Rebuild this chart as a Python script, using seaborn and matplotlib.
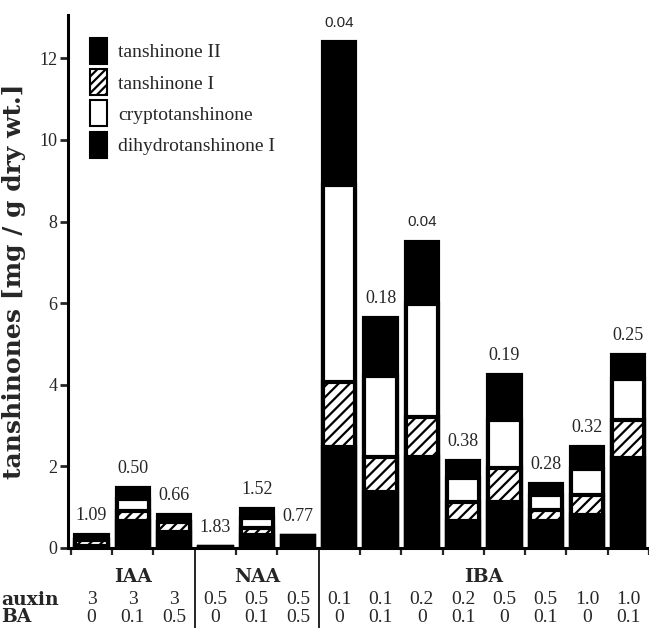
import numpy as np
import pandas as pd
import matplotlib
matplotlib.use("Agg")
import matplotlib.pyplot as plt
import matplotlib.patches as mpatches
import seaborn as sns

# ---------------- data ----------------
groups = ["IAA", "IAA", "IAA", "NAA", "NAA", "NAA",
          "IBA", "IBA", "IBA", "IBA", "IBA", "IBA", "IBA", "IBA"]
auxin = ["3", "3", "3", "0.5", "0.5", "0.5",
         "0.1", "0.1", "0.2", "0.2", "0.5", "0.5", "1.0", "1.0"]
ba = ["0", "0.1", "0.5", "0", "0.1", "0.5",
      "0", "0.1", "0", "0.1", "0", "0.1", "0", "0.1"]
# stacked bottom -> top (mg / g dry wt.)
tanshinone_II = [0.04, 0.66, 0.39, 0.03, 0.31, 0.29,
                 2.48, 1.37, 2.23, 0.65, 1.13, 0.65, 0.82, 2.21]
tanshinone_I = [0.16, 0.24, 0.24, 0.0, 0.17, 0.0,
                1.58, 0.85, 0.99, 0.47, 0.83, 0.29, 0.48, 0.93]
cryptotanshinone = [0.0, 0.29, 0.0, 0.0, 0.26, 0.0,
                    4.84, 2.00, 2.76, 0.60, 1.17, 0.35, 0.64, 1.00]
dihydrotanshinone_I = [0.11, 0.28, 0.19, 0.0, 0.21, 0.0,
                       3.49, 1.41, 1.52, 0.41, 1.10, 0.27, 0.54, 0.58]
ratio_labels = ["1.09", "0.50", "0.66", "1.83", "1.52", "0.77", "0.04",
                "0.18", "0.04", "0.38", "0.19", "0.28", "0.32", "0.25"]
ytick_values = [0, 2, 4, 6, 8, 10, 12]

# ---------------- style ----------------
sns.set_theme(style="white")
SERIF = ["Liberation Serif", "DejaVu Serif"]
BOLDSERIF = ["DejaVu Serif"]
SANS = ["Liberation Sans", "DejaVu Sans"]
plt.rcParams["font.family"] = SERIF
plt.rcParams["hatch.linewidth"] = 1.6
plt.rcParams["hatch.color"] = "black"

conds = [f"{g} {a}/{b}" for g, a, b in zip(groups, auxin, ba)]
df = pd.DataFrame({
    "cond": conds,
    "c1": np.array(tanshinone_II),
})
df["c2"] = df["c1"] + np.array(tanshinone_I)
df["c3"] = df["c2"] + np.array(cryptotanshinone)
df["c4"] = df["c3"] + np.array(dihydrotanshinone_I)

W_PX, H_PX = 649, 628
fig = plt.figure(figsize=(W_PX / 100, H_PX / 100), dpi=100)
ax = fig.add_axes([68 / W_PX, 80 / H_PX, 581 / W_PX, 533 / H_PX])

LW = 3.0
W = 0.78
common = dict(data=df, x="cond", order=conds, errorbar=None, ax=ax,
              width=W, saturation=1, edgecolor="black", linewidth=LW)
sns.barplot(y="c4", color="black", **common)
sns.barplot(y="c3", color="white", **common)
sns.barplot(y="c2", color="white", hatch="///", **common)
sns.barplot(y="c1", color="black", **common)

ax.set_xlim(-0.57, 13.50)
ax.set_ylim(0, 13.06)

# ratio annotations above the bars
for i, (lab, top) in enumerate(zip(ratio_labels, df["c4"])):
    fam = SANS if lab == "0.04" else SERIF
    size = 11 if lab == "0.04" else 13
    ax.annotate(lab, (i, top), xytext=(0, 14), textcoords="offset points",
                ha="center", va="center", fontsize=size, family=fam)

# axes styling
sns.despine(ax=ax, top=True, right=True)
for s in ("left", "bottom"):
    ax.spines[s].set_linewidth(2.2)
    ax.spines[s].set_color("black")

ax.set_yticks(ytick_values)
ax.set_yticklabels([str(v) for v in ytick_values], fontsize=13, family=SERIF)
ax.tick_params(axis="y", direction="out", length=6, width=2.0, pad=1.5,
               left=True)

bounds = [b - 0.5 for b in range(len(conds) + 1) if b not in (3, 6)]
ax.set_xticks(bounds)
ax.set_xticklabels([])
ax.tick_params(axis="x", direction="out", length=5, width=1.6, bottom=True)
ax.set_xlabel("")

ax.set_ylabel("tanshinones [mg / g dry wt.]", fontsize=18, fontweight="bold",
              family=BOLDSERIF)
ax.yaxis.set_label_coords((26 - 68) / 581, 0.5)

# group separators
xt = ax.get_xaxis_transform()
for xb in (2.5, 5.5):
    ax.plot([xb, xb], [0, -0.16], transform=xt, color="black", lw=1.2,
            clip_on=False)


def ypos(px):
    """figure pixel row (from top) -> axes fraction"""
    return (H_PX - 80 - px) / 533


# condition labels under the axis
for g, xs in (("IAA", 1), ("NAA", 4), ("IBA", 9.5)):
    ax.text(xs, ypos(577), g, transform=xt, ha="center", va="center",
            fontsize=13.5, fontweight="bold", family=BOLDSERIF)
for i, (a, b) in enumerate(zip(auxin, ba)):
    ax.text(i, ypos(600), a, transform=xt, ha="center", va="center",
            fontsize=14, family=SERIF)
    ax.text(i, ypos(617), b, transform=xt, ha="center", va="center",
            fontsize=14, family=SERIF)
fig.text(1 / W_PX, 1 - 600 / H_PX, "auxin", ha="left", va="center",
         fontsize=13.5, fontweight="bold", family=BOLDSERIF)
fig.text(1 / W_PX, 1 - 617 / H_PX, "BA", ha="left", va="center",
         fontsize=13.5, fontweight="bold", family=BOLDSERIF)

# legend
handles = [
    mpatches.Patch(facecolor="black", edgecolor="black", lw=1.5),
    mpatches.Patch(facecolor="white", edgecolor="black", hatch="////", lw=1.5),
    mpatches.Patch(facecolor="white", edgecolor="black", lw=1.5),
    mpatches.Patch(facecolor="black", edgecolor="black", lw=1.5),
]
labels = ["tanshinone II", "tanshinone I", "cryptotanshinone",
          "dihydrotanshinone I"]
fig.legend(handles, labels, loc="upper left",
           bbox_to_anchor=(90 / W_PX, 1 - 38 / H_PX), frameon=False,
           borderpad=0, borderaxespad=0, handlelength=0.88, handleheight=1.69,
           labelspacing=0.26, handletextpad=0.55,
           prop={"family": SERIF, "size": 14})

fig.savefig("out.png", dpi=100)
